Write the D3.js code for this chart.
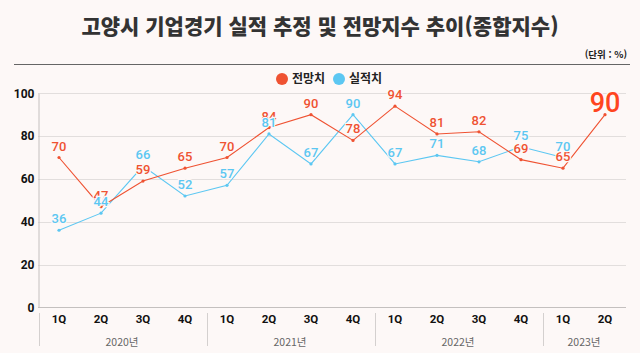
<!DOCTYPE html>
<html lang="ko">
<head>
<meta charset="utf-8">
<title>고양시 기업경기 실적 추정 및 전망지수 추이</title>
<script src="https://d3js.org/d3.v7.min.js"></script>
<style>
  body { margin: 0; background: #fdf8f7; }
  svg { display: block; font-family: "Noto Sans CJK KR", "Noto Sans", sans-serif; }
</style>
</head>
<body>
<div id="chart"></div>
<script>
// data
var quarters = ["1Q","2Q","3Q","4Q","1Q","2Q","3Q","4Q","1Q","2Q","3Q","4Q","1Q","2Q"];
var years = ["2020년","2021년","2022년","2023년"];
var yearSpan = [4, 4, 4, 2];
var forecast = [70, 47, 59, 65, 70, 84, 90, 78, 94, 81, 82, 69, 65, 90];   // 전망치
var actual   = [36, 44, 66, 52, 57, 81, 67, 90, 67, 71, 68, 75, 70, null]; // 실적치
var yTicks = [0, 20, 40, 60, 80, 100];

var w = 640, h = 353;
var bg = "#fdf8f7";
var red = "#ef5232", blue = "#5cc7f2";

var svg = d3.select("#chart").append("svg")
    .attr("width", w).attr("height", h);

svg.append("rect").attr("width", w).attr("height", h).attr("fill", bg);

// title
svg.append("text")
    .attr("x", 320).attr("y", 34)
    .attr("text-anchor", "middle")
    .attr("font-size", 21).attr("font-weight", 900)
    .attr("fill", "#333")
    .text("고양시 기업경기 실적 추정 및 전망지수 추이(종합지수)");

svg.append("text")
    .attr("x", 627).attr("y", 58)
    .attr("text-anchor", "end")
    .attr("font-size", 9.5).attr("font-weight", 700)
    .attr("fill", "#222")
    .text("(단위 : %)");

svg.append("line")
    .attr("x1", 14).attr("x2", 630)
    .attr("y1", 64.5).attr("y2", 64.5)
    .attr("stroke", "#666").attr("stroke-width", 1);

// legend
var legend = [{name: "전망치", color: red, x: 282}, {name: "실적치", color: blue, x: 339}];
var lg = svg.append("g").selectAll("g").data(legend).enter().append("g")
    .attr("transform", function(d) { return "translate(" + d.x + ",79)"; });
lg.append("circle").attr("r", 6).attr("fill", function(d) { return d.color; });
lg.append("text")
    .attr("x", 10).attr("dy", "0.35em")
    .attr("font-size", 12).attr("font-weight", 700).attr("fill", "#222")
    .text(function(d) { return d.name; });

// scales
var x = d3.scaleBand().domain(d3.range(quarters.length)).range([38, 626]);
var y = d3.scaleLinear().domain([0, 100]).range([307.3, 93.3]);
var cx = function(i) { return x(i) + x.bandwidth() / 2; };

// grid
svg.append("g").selectAll("line").data(yTicks.slice(1)).enter().append("line")
    .attr("x1", 38).attr("x2", 626)
    .attr("y1", function(d) { return Math.round(y(d)) + 0.5; })
    .attr("y2", function(d) { return Math.round(y(d)) + 0.5; })
    .attr("stroke", "#e2dedd").attr("stroke-width", 1);

// y axis
var yAxis = svg.append("g")
    .attr("transform", "translate(38.5,0)")
    .call(d3.axisLeft(y).tickValues(yTicks).tickSize(0).tickPadding(4));
yAxis.select(".domain").attr("stroke", "#c4c0bf");
yAxis.selectAll("text")
    .attr("font-size", 12).attr("font-weight", 700).attr("fill", "#111")
    .attr("font-family", "Roboto, sans-serif");

// x axis line
svg.append("line")
    .attr("x1", 38).attr("x2", 626)
    .attr("y1", 307.5).attr("y2", 307.5)
    .attr("stroke", "#c4c0bf");

// quarter labels
svg.append("g").selectAll("text").data(quarters).enter().append("text")
    .attr("x", function(d, i) { return cx(i); })
    .attr("y", 323)
    .attr("text-anchor", "middle")
    .attr("font-size", 11.5).attr("font-weight", 700).attr("fill", "#111")
    .attr("font-family", "Roboto, sans-serif")
    .text(function(d) { return d; });

// year groups
var start = 0;
var yearData = years.map(function(yr, k) {
  var o = {name: yr, from: start, to: start + yearSpan[k] - 1};
  start += yearSpan[k];
  return o;
});
var yg = svg.append("g");
yg.selectAll("line").data(yearData).enter().append("line")
    .attr("x1", function(d) { return Math.round(x(d.from)) + 1.5; })
    .attr("x2", function(d) { return Math.round(x(d.from)) + 1.5; })
    .attr("y1", 313).attr("y2", 346)
    .attr("stroke", "#d4d0cf");
yg.selectAll("text").data(yearData).enter().append("text")
    .attr("x", function(d) { return (x(d.from) + x(d.to) + x.bandwidth()) / 2; })
    .attr("y", 346)
    .attr("text-anchor", "middle")
    .attr("font-size", 10.5).attr("fill", "#666")
    .text(function(d) { return d.name; });

// lines
var line = d3.line()
    .defined(function(d) { return d != null; })
    .x(function(d, i) { return cx(i); })
    .y(function(d) { return y(d); });

function drawSeries(vals, color) {
  var g = svg.append("g");
  g.append("path").datum(vals)
      .attr("d", line)
      .attr("fill", "none").attr("stroke", color).attr("stroke-width", 1.1);
  g.selectAll("circle").data(vals.map(function(v, i) { return {v: v, i: i}; })
      .filter(function(d) { return d.v != null; }))
    .enter().append("circle")
      .attr("cx", function(d) { return cx(d.i); })
      .attr("cy", function(d) { return y(d.v); })
      .attr("r", 1.6).attr("fill", color);
}
drawSeries(actual, blue);
drawSeries(forecast, red);

function drawLabels(vals, color, bigLast) {
  var n = vals.length;
  svg.append("g").selectAll("text")
    .data(vals.map(function(v, i) { return {v: v, i: i}; })
      .filter(function(d) { return d.v != null; }))
    .enter().append("text")
      .attr("x", function(d) { return cx(d.i); })
      .attr("y", function(d) {
        return y(d.v) - ((bigLast && d.i === n - 1) ? 3 : 7);
      })
      .attr("text-anchor", "middle")
      .attr("font-size", function(d) { return (bigLast && d.i === n - 1) ? 27 : 13; })
      .attr("font-weight", 500)
      .attr("fill", function(d) { return (bigLast && d.i === n - 1) ? "#ff4520" : color; })
      .attr("stroke", bg).attr("stroke-width", 2.5)
      .attr("paint-order", "stroke")
      .attr("font-family", "Roboto, sans-serif")
      .text(function(d) { return d.v; });
}
drawLabels(forecast, red, true);
drawLabels(actual, blue, false);
</script>
</body>
</html>
